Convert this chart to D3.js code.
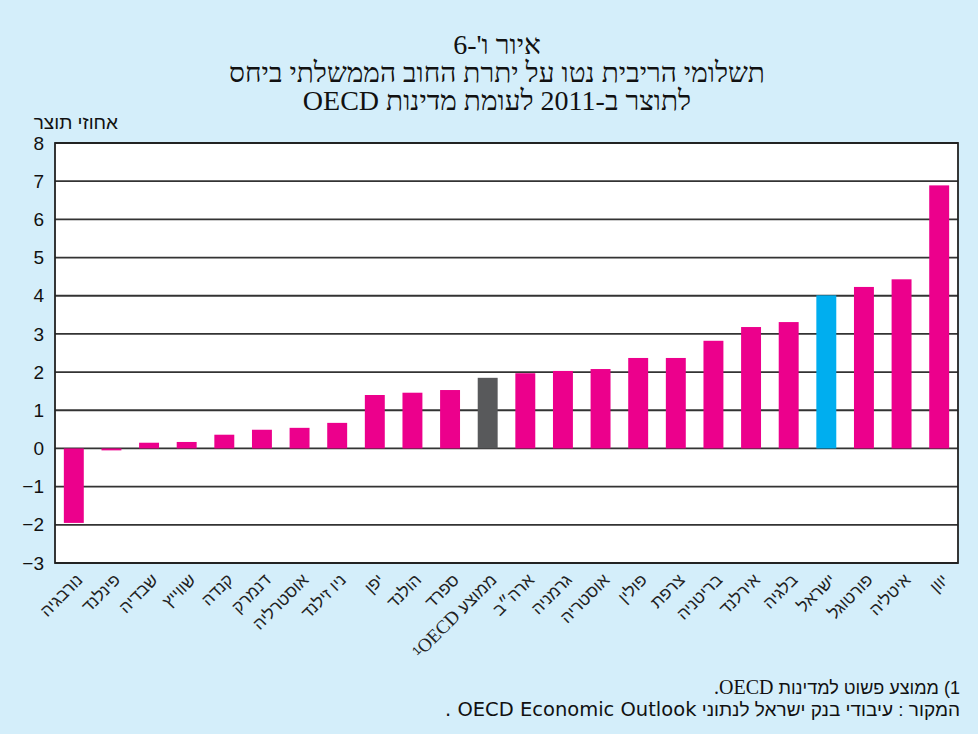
<!DOCTYPE html>
<html><head><meta charset="utf-8">
<script src="https://cdn.jsdelivr.net/npm/d3@7"></script>
<style>body{margin:0;background:#d4eefa;} svg{display:block;}</style>
</head><body>
<svg id="c" width="978" height="734"></svg>
<script>
const categories = ["נורבגיה","פינלנד","שבדיה","שווייץ","קנדה","דנמרק","אוסטרליה","ניו זילנד","יפן","הולנד","ספרד","ממוצע OECD","ארה״ב","גרמניה","אוסטריה","פולין","צרפת","בריטניה","אירלנד","בלגיה","ישראל","פורטוגל","איטליה","יוון"];
const values = [-1.95,-0.05,0.15,0.17,0.36,0.49,0.54,0.67,1.40,1.46,1.53,1.85,1.97,2.03,2.08,2.37,2.37,2.82,3.18,3.31,4.01,4.23,4.43,6.89];
const yTicks = [-3,-2,-1,0,1,2,3,4,5,6,7,8];
const titleLines = ["איור ו'-6","תשלומי הריבית נטו על יתרת החוב הממשלתי ביחס","לתוצר ב-2011 לעומת מדינות OECD"];
const yAxisLabel = "אחוזי תוצר";
const footnote1 = ["1) ממוצע פשוט למדינות ","OECD."];
const footnote2 = ["המקור : עיבודי בנק ישראל לנתוני  ","OECD Economic Outlook"," ."];

const colorFor = c => c === "ממוצע OECD" ? "#58595b" : (c === "ישראל" ? "#00aeef" : "#ec008c");

const svg = d3.select("#c");
svg.append("rect").attr("width",978).attr("height",734).attr("fill","#d4eefa");

const L = 55, R = 958, T = 143, B = 563;
const x = d3.scaleBand().domain(categories).range([L,R]).paddingInner(0.47).paddingOuter(0.235);
const y = d3.scaleLinear().domain([-3,8]).range([B,T]);

svg.append("rect").attr("x",L).attr("y",T).attr("width",R-L).attr("height",B-T).attr("fill","#fff");

svg.append("g").selectAll("line").data(yTicks).join("line")
  .attr("x1",L).attr("x2",R).attr("y1",d=>y(d)).attr("y2",d=>y(d))
  .attr("stroke","#333").attr("stroke-width",1.8);

svg.append("g").selectAll("rect").data(categories).join("rect")
  .attr("x",d=>x(d)).attr("width",x.bandwidth())
  .attr("y",(d,i)=>y(Math.max(0,values[i])))
  .attr("height",(d,i)=>Math.abs(y(values[i])-y(0)))
  .attr("fill",d=>colorFor(d));

svg.append("rect").attr("x",L).attr("y",T).attr("width",R-L).attr("height",B-T)
  .attr("fill","none").attr("stroke","#222").attr("stroke-width",1.8);

const ya = svg.append("g").attr("transform",`translate(${L},0)`)
  .call(d3.axisLeft(y).tickValues(yTicks).tickSize(0).tickPadding(11).tickFormat(d3.format("d")));
ya.select(".domain").remove();
ya.selectAll("text").attr("font-family","Liberation Sans, Arial, sans-serif").attr("font-size",19).attr("fill","#111");

const xa = svg.append("g").attr("transform",`translate(0,${B})`)
  .call(d3.axisBottom(x).tickSize(0).tickPadding(0));
xa.select(".domain").remove();
xa.selectAll("text")
  .attr("font-family","Liberation Sans, Arial, sans-serif").attr("font-size",17).attr("fill","#222")
  .attr("text-anchor","end").attr("dy",null).attr("y",null)
  .attr("transform","translate(10,18) rotate(-45)")
  .each(function(d){
    if (d === "ממוצע OECD") {
      const t = d3.select(this); t.text(null);
      t.append("tspan").attr("font-size",12).attr("baseline-shift","4").text("1");
      t.append("tspan").attr("font-family","Liberation Serif, serif").attr("font-size",19).text("OECD ");
      t.append("tspan").text("ממוצע");
    }
  });

const tt = svg.append("g").attr("font-family","Liberation Serif, Times New Roman, serif").attr("fill","#111").attr("font-size",28);
titleLines.forEach((s,i)=>{
  tt.append("text").attr("x",497).attr("y",[54,82,110][i]).attr("text-anchor","middle").attr("direction","rtl").text(s);
});

function rightText(parts, fonts, sizes, xr, yb){
  const t = svg.append("text").attr("y",yb).attr("direction","rtl").attr("text-anchor","middle").attr("fill","#111");
  parts.forEach((p,i)=> t.append("tspan").attr("font-family",fonts[i]).attr("font-size",sizes[i]).text(p));
  const len = t.node().getComputedTextLength();
  t.attr("x", xr - len/2);
  return t;
}
rightText([yAxisLabel],["Liberation Sans, Arial, sans-serif"],[19],118,129);
rightText(footnote1,["Liberation Sans, Arial, sans-serif","Liberation Serif, serif"],[18,20],960,694);
rightText(footnote2,["Liberation Sans, Arial, sans-serif","DejaVu Sans, sans-serif","DejaVu Sans, sans-serif"],[19,19.5,19.5],960,716);
</script>
</body></html>
